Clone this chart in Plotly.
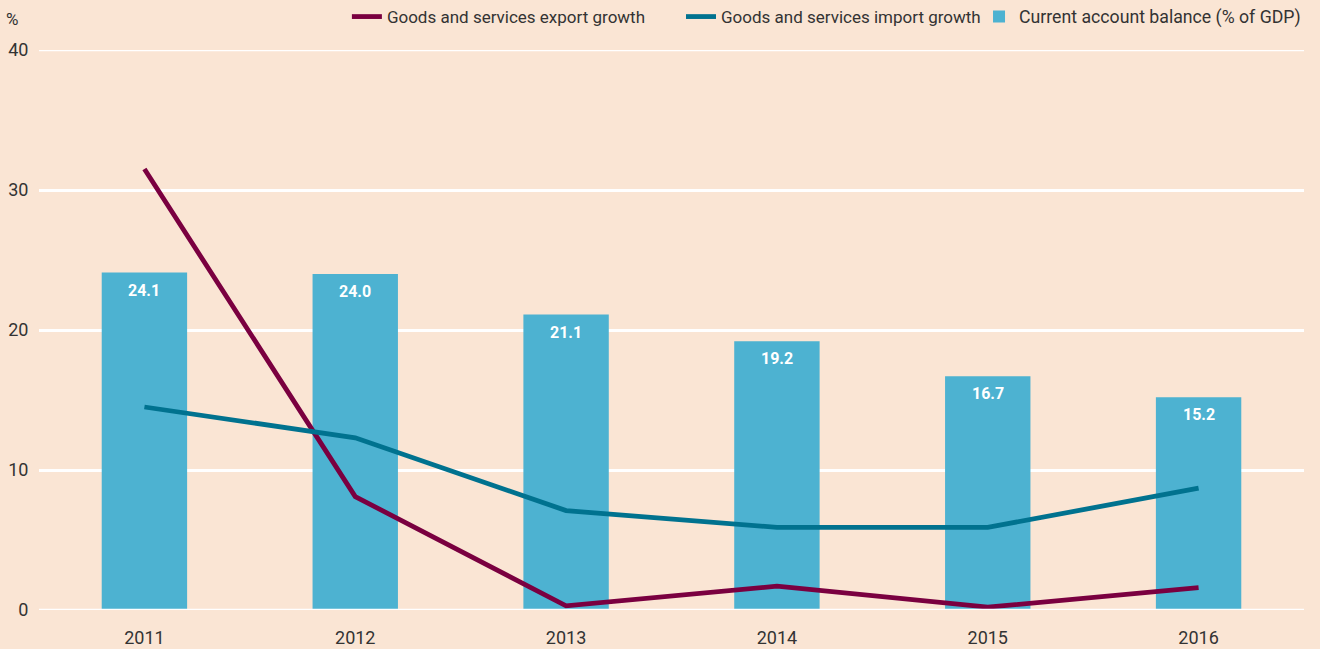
import plotly.graph_objects as go

years = ["2011", "2012", "2013", "2014", "2015", "2016"]
export_growth = [31.5, 8.1, 0.3, 1.7, 0.2, 1.6]
import_growth = [14.5, 12.3, 7.1, 5.9, 5.9, 8.7]
current_account = [24.1, 24.0, 21.1, 19.2, 16.7, 15.2]

BG = "#FAE5D4"
FONT = "Roboto, sans-serif"
TXT = "#333333"

fig = go.Figure()
fig.add_trace(go.Scatter(x=years, y=export_growth, mode="lines",
                         name="Goods and services export growth", legend="legend",
                         line=dict(color="#7A0040", width=4.8)))
fig.add_trace(go.Scatter(x=years, y=import_growth, mode="lines",
                         name="Goods and services import growth", legend="legend2",
                         line=dict(color="#00728F", width=4.8)))
fig.add_trace(go.Bar(x=years, y=current_account, width=0.405,
                     name="Current account balance (% of GDP)", legend="legend3",
                     marker=dict(color="#4DB2D1", line=dict(width=0))))

# value labels inside the top of each bar (x given as category index)
for i, v in enumerate(current_account):
    fig.add_annotation(x=i, y=v, xref="x", yref="y", text=f"<b>{v:.1f}</b>",
                       showarrow=False, yanchor="top", yshift=-6,
                       font=dict(family=FONT, size=16, color="white"))

fig.add_annotation(xref="paper", yref="paper", x=-0.015, y=1.0, yshift=31,
                   xanchor="right", yanchor="middle", text="%", showarrow=False,
                   font=dict(family=FONT, size=17, color=TXT))

# white baseline at zero and top line (plotly hides gridlines at the plot edges)
fig.add_hline(y=0, line=dict(color="white", width=2.5), layer="above")
fig.add_hline(y=40, line=dict(color="white", width=2.5), layer="below")

def leg(xp, size=17):
    return dict(orientation="h", x=xp, xanchor="left", y=1.0589, yanchor="middle",
                bgcolor="rgba(0,0,0,0)", font=dict(family=FONT, size=size, color=TXT))

fig.update_layout(
    width=1320, height=649,
    paper_bgcolor=BG, plot_bgcolor=BG,
    margin=dict(l=39, r=16, t=50, b=39, autoexpand=False),
    font=dict(family=FONT, size=18, color=TXT),
    showlegend=True,
    legend=leg(0.2434),
    legend2=leg(0.5075),
    legend3=leg(0.7431, 17.7),
    xaxis=dict(type="category", range=[-0.5, 5.5], showgrid=False, zeroline=False,
               showline=False, ticks="outside", ticklen=11, tickcolor="rgba(0,0,0,0)",
               tickfont=dict(family=FONT, size=18, color=TXT)),
    yaxis=dict(range=[0, 40], dtick=10, showgrid=True, gridcolor="white", gridwidth=2.5,
               zeroline=False, showline=False,
               ticks="outside", ticklen=6, tickcolor="rgba(0,0,0,0)",
               tickfont=dict(family=FONT, size=18, color=TXT)),
)

fig.write_html("out.html", config={"displayModeBar": False},
               post_script="document.body.style.margin='0px';")
